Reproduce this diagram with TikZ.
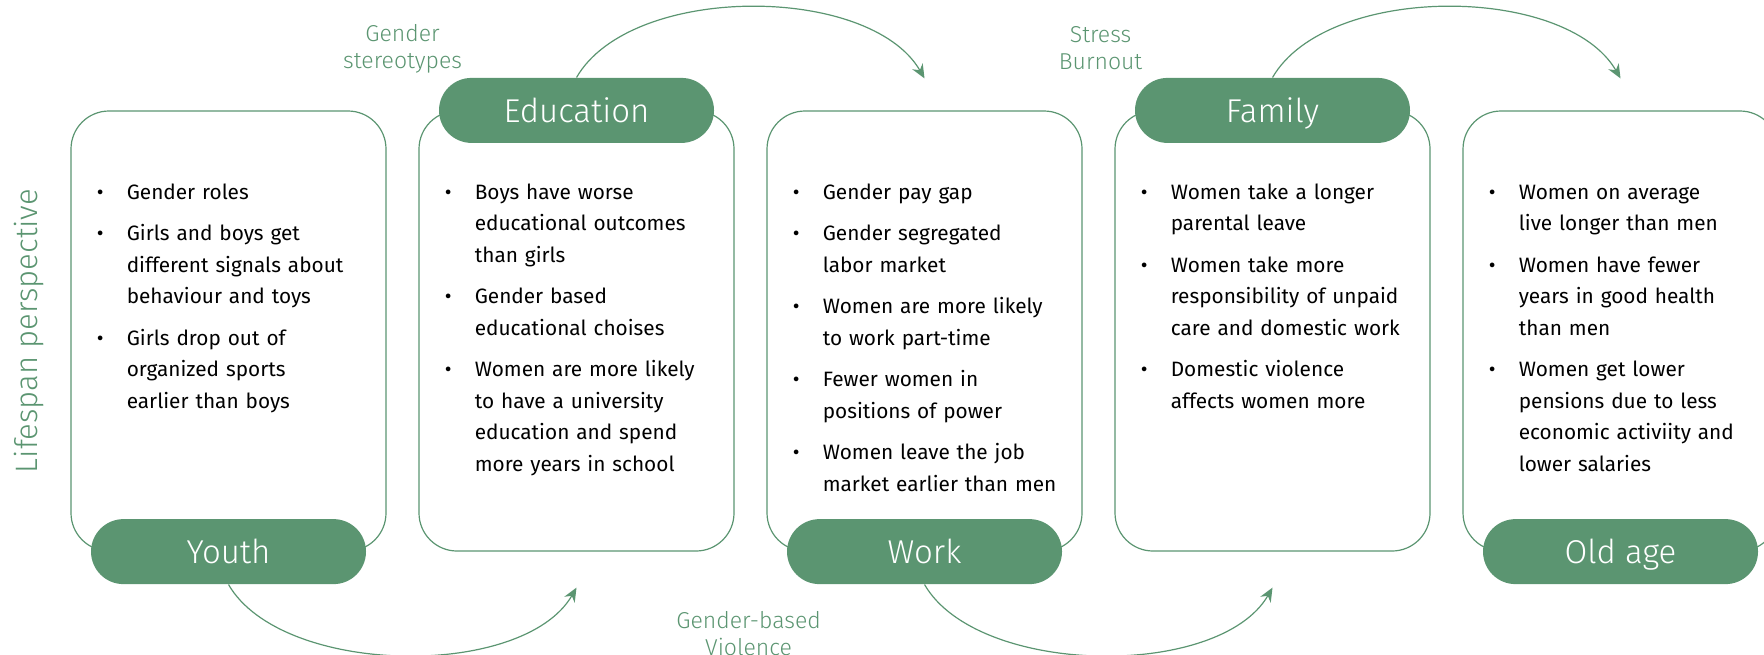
\documentclass[tikz,border=0pt]{standalone}
\usepackage{fontspec}
\setmainfont{Fira Sans}
\newfontfamily\lightfont{Fira Sans Light}
\usetikzlibrary{arrows.meta, positioning}

\definecolor{stagegreen}{HTML}{5B9571}

\newenvironment{bullets}{%
  \begin{list}{\textbullet}{%
    \setlength{\leftmargin}{15pt}%
    \setlength{\labelwidth}{15pt}%
    \setlength{\labelsep}{0pt}%
    \setlength{\itemsep}{5pt}%
    \setlength{\topsep}{0pt}%
    \setlength{\parsep}{0pt}%
    \setlength{\partopsep}{0pt}%
    \renewcommand{\makelabel}[1]{##1\hfil}}}%
  {\end{list}}

\tikzstyle{box} = [
    rectangle,
    rounded corners=19pt,
    minimum width=157.5pt,
    minimum height=220pt,
    draw=stagegreen,
    line width=0.6pt
]
\tikzstyle{stage} = [
    rectangle,
    rounded corners=16.25pt,
    minimum width=137.5pt,
    minimum height=32.5pt,
    text height=11.7pt,
    text depth=0pt,
    text centered,
    fill=stagegreen,
    text=white,
    font=\lightfont\fontsize{16.5}{19}\selectfont
]
\tikzstyle{points} = [
    text width=140pt,
    inner sep=0pt,
    anchor=north west,
    font=\fontsize{10.4}{15.75}\selectfont
]
\tikzstyle{cause} = [
    text=stagegreen,
    align=center,
    font=\lightfont\fontsize{11.5}{13.5}\selectfont
]
\tikzstyle{arrow} = [line width=0.6pt, draw=stagegreen, ->, >={Stealth[length=7pt,width=6pt]}]

\begin{document}
\begin{tikzpicture}[node distance=174pt]
\useasboundingbox (0,0) rectangle (882pt,-327pt);

\node (box1) [box] at (114.25pt,-165.5pt) {};
\node (box2) [box, right of=box1] {};
\node (box3) [box, right of=box2] {};
\node (box4) [box, right of=box3] {};
\node (box5) [box, right of=box4] {};

\node (youth) [stage] at (box1.south) {Youth};
\node (edu) [stage] at (box2.north) {Education};
\node (work) [stage] at (box3.south) {Work};
\node (family) [stage] at (box4.north) {Family};
\node (old) [stage] at (box5.south) {Old age};

\node (list1) [points] at ([xshift=13pt, yshift=-28.5pt]box1.north west) {\begin{bullets}
  \item Gender roles
  \item Girls and boys get\\different signals about\\behaviour and toys
  \item Girls drop out of\\organized sports\\earlier than boys
\end{bullets}};
\node (list2) [points] at ([xshift=13pt, yshift=-28.5pt]box2.north west) {\begin{bullets}
  \item Boys have worse\\educational outcomes\\than girls
  \item Gender based\\educational choises
  \item Women are more likely\\to have a university\\education and spend\\more years in school
\end{bullets}};
\node (list3) [points] at ([xshift=13pt, yshift=-28.5pt]box3.north west) {\begin{bullets}
  \item Gender pay gap
  \item Gender segregated\\labor market
  \item Women are more likely\\to work part-time
  \item Fewer women in\\positions of power
  \item Women leave the job\\market earlier than men
\end{bullets}};
\node (list4) [points] at ([xshift=13pt, yshift=-28.5pt]box4.north west) {\begin{bullets}
  \item Women take a longer\\parental leave
  \item Women take more\\responsibility of unpaid\\care and domestic work
  \item Domestic violence\\affects women more
\end{bullets}};
\node (list5) [points] at ([xshift=13pt, yshift=-28.5pt]box5.north west) {\begin{bullets}
  \item Women on average\\live longer than men
  \item Women have fewer\\years in good health\\than men
  \item Women get lower\\pensions due to less\\economic activiity and\\lower salaries
\end{bullets}};

\coordinate (in2) at ([yshift=-18pt]box2.south);
\coordinate (in3) at ([yshift=16pt]box3.north);
\coordinate (in4) at ([yshift=-18pt]box4.south);
\coordinate (in5) at ([yshift=16pt]box5.north);

\draw [arrow] (youth.south) to[out=-60, in=-120, looseness=0.78] (in2);
\draw [arrow] (edu.north) to[out=60, in=120, looseness=0.8] (in3);
\draw [arrow] (work.south) to[out=-60, in=-120, looseness=0.78] (in4);
\draw [arrow] (family.north) to[out=60, in=120, looseness=0.8] (in5);

\node (stereo) [cause] at ([xshift=8pt, yshift=31pt]box1.north east) {Gender\\stereotypes};
\node (stress) [cause] at ([xshift=9pt, yshift=31pt]box3.north east) {Stress\\Burnout};
\node (violence) [cause] at ([xshift=7pt, yshift=-41pt]box2.south east) {Gender-based\\Violence};
\node (lifespan) [rotate=90, text=stagegreen, font=\lightfont\fontsize{15.5}{19}\selectfont] at ([xshift=-20.5pt]box1.west) {Lifespan perspective};

\end{tikzpicture}
\end{document}
